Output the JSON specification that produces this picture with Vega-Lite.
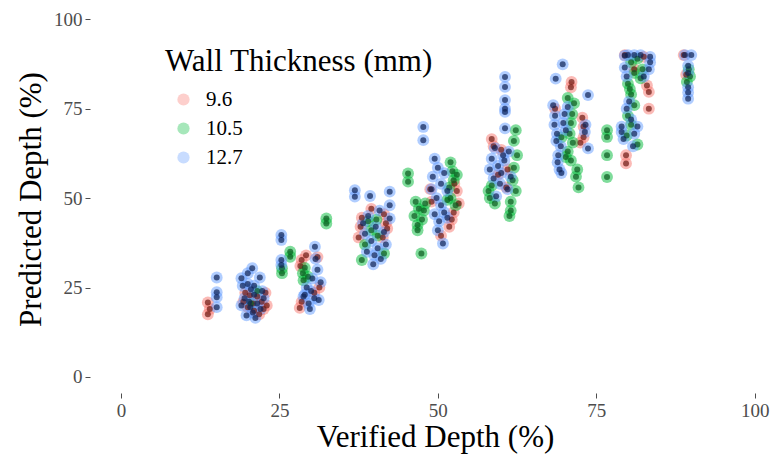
{
  "$schema": "https://vega.github.io/schema/vega-lite/v6.json",
  "width": 690,
  "height": 388,
  "autosize": "none",
  "padding": {"left": 90, "top": 5, "right": 2, "bottom": 62},
  "background": "white",
  "config": {
    "font": "Liberation Serif",
    "view": {"stroke": null},
    "axis": {"grid": false, "domain": false, "labelFont": "Liberation Serif", "titleFont": "Liberation Serif", "labelColor": "#4d4d4d", "tickColor": "#4d4d4d", "titleColor": "black", "titleFontWeight": "normal", "labelFontSize": 19, "titleFontSize": 31, "tickSize": 5},
    "legend": {"labelFont": "Liberation Serif", "titleFont": "Liberation Serif", "titleLimit": 500, "labelLimit": 200}
  },
  "data": {"values": [
    {"x":13.7,"y":20.8,"g":"9.6"},{"x":13.7,"y":17.5,"g":"9.6"},{"x":14.0,"y":19.0,"g":"9.6"},
    {"x":19.3,"y":21.0,"g":"9.6"},{"x":20.0,"y":19.5,"g":"9.6"},{"x":20.8,"y":20.5,"g":"9.6"},{"x":21.5,"y":22.5,"g":"9.6"},{"x":22.2,"y":21.0,"g":"9.6"},{"x":22.8,"y":23.5,"g":"9.6"},{"x":19.6,"y":23.5,"g":"9.6"},{"x":21.0,"y":18.5,"g":"9.6"},{"x":22.5,"y":19.0,"g":"9.6"},{"x":20.3,"y":22.8,"g":"9.6"},{"x":23.0,"y":20.0,"g":"9.6"},{"x":21.8,"y":17.5,"g":"9.6"},
    {"x":28.5,"y":32.7,"g":"9.6"},{"x":28.3,"y":31.0,"g":"9.6"},{"x":28.2,"y":19.3,"g":"9.6"},{"x":28.5,"y":21.0,"g":"9.6"},{"x":30.5,"y":23.5,"g":"9.6"},{"x":31.3,"y":25.0,"g":"9.6"},{"x":29.2,"y":34.0,"g":"9.6"},{"x":31.0,"y":33.5,"g":"9.6"},
    {"x":37.8,"y":42.0,"g":"9.6"},{"x":38.0,"y":44.5,"g":"9.6"},{"x":41.5,"y":45.5,"g":"9.6"},{"x":41.8,"y":43.0,"g":"9.6"},{"x":42.0,"y":41.5,"g":"9.6"},{"x":41.3,"y":39.0,"g":"9.6"},{"x":37.5,"y":39.0,"g":"9.6"},{"x":39.5,"y":47.0,"g":"9.6"},
    {"x":48.8,"y":52.5,"g":"9.6"},{"x":49.0,"y":49.0,"g":"9.6"},{"x":52.6,"y":54.0,"g":"9.6"},{"x":53.0,"y":52.0,"g":"9.6"},{"x":52.5,"y":46.0,"g":"9.6"},{"x":53.3,"y":48.5,"g":"9.6"},{"x":51.8,"y":42.0,"g":"9.6"},{"x":50.5,"y":39.5,"g":"9.6"},{"x":52.2,"y":44.0,"g":"9.6"},
    {"x":58.5,"y":66.5,"g":"9.6"},{"x":58.8,"y":64.5,"g":"9.6"},{"x":60.0,"y":63.5,"g":"9.6"},{"x":61.0,"y":58.0,"g":"9.6"},{"x":59.5,"y":56.5,"g":"9.6"},{"x":60.8,"y":53.0,"g":"9.6"},
    {"x":71.1,"y":82.5,"g":"9.6"},{"x":71.0,"y":81.0,"g":"9.6"},{"x":72.8,"y":72.5,"g":"9.6"},{"x":73.0,"y":70.0,"g":"9.6"},{"x":73.0,"y":67.0,"g":"9.6"},{"x":68.5,"y":75.0,"g":"9.6"},{"x":72.5,"y":65.5,"g":"9.6"},
    {"x":79.5,"y":90.0,"g":"9.6"},{"x":82.5,"y":89.5,"g":"9.6"},{"x":83.3,"y":79.7,"g":"9.6"},{"x":83.3,"y":75.0,"g":"9.6"},{"x":79.7,"y":62.0,"g":"9.6"},{"x":79.7,"y":59.7,"g":"9.6"},{"x":83.0,"y":81.5,"g":"9.6"},{"x":81.0,"y":86.0,"g":"9.6"},
    {"x":88.8,"y":90.0,"g":"9.6"},{"x":89.2,"y":84.5,"g":"9.6"},
    {"x":20.5,"y":20.5,"g":"10.5"},{"x":21.5,"y":24.0,"g":"10.5"},
    {"x":26.7,"y":35.0,"g":"10.5"},{"x":26.7,"y":33.6,"g":"10.5"},{"x":25.4,"y":30.4,"g":"10.5"},{"x":25.4,"y":29.0,"g":"10.5"},
    {"x":28.7,"y":29.0,"g":"10.5"},{"x":28.8,"y":27.0,"g":"10.5"},{"x":29.0,"y":30.5,"g":"10.5"},{"x":29.5,"y":28.0,"g":"10.5"},
    {"x":32.4,"y":44.3,"g":"10.5"},{"x":32.4,"y":42.9,"g":"10.5"},
    {"x":38.0,"y":32.7,"g":"10.5"},{"x":39.5,"y":41.0,"g":"10.5"},{"x":40.3,"y":44.0,"g":"10.5"},{"x":39.0,"y":43.5,"g":"10.5"},{"x":38.5,"y":37.0,"g":"10.5"},{"x":40.5,"y":39.5,"g":"10.5"},{"x":41.5,"y":34.5,"g":"10.5"},
    {"x":45.3,"y":56.9,"g":"10.5"},{"x":45.3,"y":54.6,"g":"10.5"},
    {"x":46.5,"y":49.0,"g":"10.5"},{"x":47.0,"y":47.0,"g":"10.5"},{"x":46.3,"y":45.0,"g":"10.5"},{"x":47.5,"y":44.0,"g":"10.5"},{"x":47.8,"y":46.5,"g":"10.5"},{"x":46.8,"y":42.5,"g":"10.5"},{"x":47.4,"y":34.5,"g":"10.5"},{"x":48.0,"y":48.5,"g":"10.5"},{"x":46.8,"y":41.0,"g":"10.5"},
    {"x":52.0,"y":60.0,"g":"10.5"},{"x":52.3,"y":57.5,"g":"10.5"},{"x":52.5,"y":55.0,"g":"10.5"},{"x":51.8,"y":53.0,"g":"10.5"},{"x":52.0,"y":50.0,"g":"10.5"},{"x":51.5,"y":49.5,"g":"10.5"},{"x":53.0,"y":56.5,"g":"10.5"},{"x":52.8,"y":48.0,"g":"10.5"},
    {"x":58.0,"y":52.0,"g":"10.5"},{"x":58.2,"y":50.0,"g":"10.5"},{"x":62.3,"y":69.0,"g":"10.5"},{"x":62.0,"y":66.0,"g":"10.5"},{"x":62.5,"y":62.0,"g":"10.5"},{"x":62.0,"y":58.5,"g":"10.5"},{"x":61.8,"y":55.0,"g":"10.5"},{"x":62.3,"y":52.0,"g":"10.5"},{"x":61.5,"y":49.0,"g":"10.5"},{"x":61.5,"y":46.5,"g":"10.5"},{"x":61.3,"y":45.0,"g":"10.5"},{"x":59.0,"y":48.5,"g":"10.5"},{"x":58.5,"y":53.5,"g":"10.5"},
    {"x":70.5,"y":78.0,"g":"10.5"},{"x":71.5,"y":76.5,"g":"10.5"},{"x":71.2,"y":73.5,"g":"10.5"},{"x":71.0,"y":71.0,"g":"10.5"},{"x":70.8,"y":68.0,"g":"10.5"},{"x":71.3,"y":65.5,"g":"10.5"},{"x":70.5,"y":63.0,"g":"10.5"},{"x":71.0,"y":60.5,"g":"10.5"},{"x":72.0,"y":58.0,"g":"10.5"},{"x":71.8,"y":56.0,"g":"10.5"},{"x":72.2,"y":53.0,"g":"10.5"},{"x":70.2,"y":61.5,"g":"10.5"},{"x":69.5,"y":67.0,"g":"10.5"},
    {"x":76.7,"y":69.0,"g":"10.5"},{"x":76.7,"y":67.1,"g":"10.5"},{"x":76.7,"y":62.0,"g":"10.5"},{"x":76.7,"y":55.9,"g":"10.5"},
    {"x":81.5,"y":89.0,"g":"10.5"},{"x":80.5,"y":88.0,"g":"10.5"},{"x":82.3,"y":86.0,"g":"10.5"},{"x":81.0,"y":85.0,"g":"10.5"},{"x":80.0,"y":82.0,"g":"10.5"},{"x":80.5,"y":79.0,"g":"10.5"},{"x":81.0,"y":76.0,"g":"10.5"},{"x":80.0,"y":73.0,"g":"10.5"},{"x":80.5,"y":70.5,"g":"10.5"},{"x":79.8,"y":67.5,"g":"10.5"},{"x":81.5,"y":65.0,"g":"10.5"},{"x":80.3,"y":80.5,"g":"10.5"},{"x":82.0,"y":83.5,"g":"10.5"},
    {"x":89.8,"y":84.0,"g":"10.5"},{"x":89.3,"y":82.5,"g":"10.5"},{"x":89.6,"y":86.0,"g":"10.5"},
    {"x":15.1,"y":27.8,"g":"12.7"},{"x":15.1,"y":23.7,"g":"12.7"},{"x":15.1,"y":22.3,"g":"12.7"},{"x":15.1,"y":19.5,"g":"12.7"},
    {"x":19.0,"y":27.6,"g":"12.7"},{"x":20.7,"y":30.4,"g":"12.7"},{"x":21.9,"y":27.8,"g":"12.7"},{"x":19.2,"y":25.5,"g":"12.7"},{"x":20.0,"y":26.0,"g":"12.7"},{"x":20.5,"y":24.5,"g":"12.7"},{"x":21.0,"y":23.0,"g":"12.7"},{"x":19.5,"y":22.0,"g":"12.7"},{"x":20.2,"y":21.0,"g":"12.7"},{"x":21.5,"y":20.5,"g":"12.7"},{"x":22.0,"y":19.0,"g":"12.7"},{"x":20.8,"y":18.0,"g":"12.7"},{"x":21.2,"y":16.5,"g":"12.7"},{"x":19.8,"y":17.2,"g":"12.7"},{"x":22.5,"y":22.0,"g":"12.7"},{"x":19.0,"y":20.0,"g":"12.7"},{"x":20.0,"y":29.0,"g":"12.7"},{"x":21.0,"y":25.5,"g":"12.7"},{"x":22.3,"y":24.0,"g":"12.7"},{"x":20.4,"y":19.5,"g":"12.7"},
    {"x":25.3,"y":39.7,"g":"12.7"},{"x":25.3,"y":38.3,"g":"12.7"},{"x":25.3,"y":32.7,"g":"12.7"},{"x":25.3,"y":31.3,"g":"12.7"},
    {"x":30.6,"y":36.4,"g":"12.7"},{"x":30.7,"y":33.0,"g":"12.7"},{"x":31.0,"y":30.0,"g":"12.7"},{"x":29.3,"y":25.0,"g":"12.7"},{"x":30.0,"y":24.0,"g":"12.7"},{"x":30.5,"y":22.0,"g":"12.7"},{"x":29.0,"y":23.0,"g":"12.7"},{"x":31.2,"y":21.5,"g":"12.7"},{"x":29.6,"y":20.5,"g":"12.7"},{"x":28.8,"y":22.5,"g":"12.7"},{"x":30.2,"y":27.5,"g":"12.7"},{"x":31.5,"y":26.5,"g":"12.7"},{"x":29.8,"y":19.0,"g":"12.7"},
    {"x":36.9,"y":52.2,"g":"12.7"},{"x":36.9,"y":50.4,"g":"12.7"},{"x":39.3,"y":50.6,"g":"12.7"},{"x":42.4,"y":51.8,"g":"12.7"},{"x":42.4,"y":48.0,"g":"12.7"},{"x":42.4,"y":44.3,"g":"12.7"},{"x":38.5,"y":40.0,"g":"12.7"},{"x":39.5,"y":38.0,"g":"12.7"},{"x":40.5,"y":36.0,"g":"12.7"},{"x":41.0,"y":33.0,"g":"12.7"},{"x":39.8,"y":31.5,"g":"12.7"},{"x":38.8,"y":35.0,"g":"12.7"},{"x":40.2,"y":42.0,"g":"12.7"},{"x":41.5,"y":40.5,"g":"12.7"},{"x":39.0,"y":45.0,"g":"12.7"},{"x":40.8,"y":46.5,"g":"12.7"},{"x":41.8,"y":37.0,"g":"12.7"},{"x":38.2,"y":43.0,"g":"12.7"},{"x":40.0,"y":34.0,"g":"12.7"},
    {"x":47.7,"y":69.9,"g":"12.7"},{"x":47.7,"y":66.2,"g":"12.7"},{"x":50.8,"y":37.3,"g":"12.7"},{"x":49.5,"y":61.0,"g":"12.7"},{"x":50.0,"y":58.5,"g":"12.7"},{"x":51.0,"y":57.0,"g":"12.7"},{"x":49.2,"y":56.0,"g":"12.7"},{"x":50.5,"y":54.0,"g":"12.7"},{"x":51.5,"y":52.0,"g":"12.7"},{"x":49.8,"y":50.0,"g":"12.7"},{"x":50.5,"y":48.0,"g":"12.7"},{"x":51.0,"y":46.0,"g":"12.7"},{"x":49.5,"y":45.5,"g":"12.7"},{"x":50.2,"y":43.5,"g":"12.7"},{"x":51.5,"y":44.5,"g":"12.7"},{"x":49.0,"y":52.5,"g":"12.7"},{"x":50.0,"y":41.0,"g":"12.7"},
    {"x":60.6,"y":83.9,"g":"12.7"},{"x":60.6,"y":81.1,"g":"12.7"},{"x":60.6,"y":77.4,"g":"12.7"},{"x":60.6,"y":75.0,"g":"12.7"},{"x":60.6,"y":74.1,"g":"12.7"},{"x":60.6,"y":69.5,"g":"12.7"},{"x":59.0,"y":64.0,"g":"12.7"},{"x":58.5,"y":61.0,"g":"12.7"},{"x":59.5,"y":59.0,"g":"12.7"},{"x":60.0,"y":57.0,"g":"12.7"},{"x":58.8,"y":55.5,"g":"12.7"},{"x":59.8,"y":54.0,"g":"12.7"},{"x":61.0,"y":52.5,"g":"12.7"},{"x":60.5,"y":60.5,"g":"12.7"},{"x":61.5,"y":56.0,"g":"12.7"},{"x":59.2,"y":50.5,"g":"12.7"},{"x":60.3,"y":62.0,"g":"12.7"},{"x":58.2,"y":58.0,"g":"12.7"},{"x":61.2,"y":63.0,"g":"12.7"},
    {"x":69.7,"y":87.4,"g":"12.7"},{"x":68.6,"y":83.4,"g":"12.7"},{"x":73.7,"y":78.8,"g":"12.7"},{"x":73.7,"y":63.9,"g":"12.7"},{"x":68.8,"y":68.0,"g":"12.7"},{"x":68.2,"y":76.0,"g":"12.7"},{"x":68.5,"y":73.0,"g":"12.7"},{"x":68.4,"y":70.5,"g":"12.7"},{"x":68.7,"y":66.0,"g":"12.7"},{"x":69.0,"y":62.0,"g":"12.7"},{"x":68.9,"y":60.0,"g":"12.7"},{"x":69.2,"y":58.0,"g":"12.7"},{"x":69.5,"y":57.0,"g":"12.7"},{"x":70.0,"y":73.5,"g":"12.7"},{"x":70.5,"y":75.5,"g":"12.7"},{"x":69.8,"y":71.0,"g":"12.7"},{"x":70.2,"y":69.0,"g":"12.7"},{"x":73.3,"y":70.5,"g":"12.7"},{"x":73.2,"y":68.5,"g":"12.7"},{"x":69.4,"y":64.5,"g":"12.7"},
    {"x":80.0,"y":90.0,"g":"12.7"},{"x":81.0,"y":90.0,"g":"12.7"},{"x":82.0,"y":90.0,"g":"12.7"},{"x":79.5,"y":89.8,"g":"12.7"},{"x":83.5,"y":89.5,"g":"12.7"},{"x":79.5,"y":86.5,"g":"12.7"},{"x":83.3,"y":86.0,"g":"12.7"},{"x":83.5,"y":88.0,"g":"12.7"},{"x":79.0,"y":70.0,"g":"12.7"},{"x":79.3,"y":66.5,"g":"12.7"},{"x":80.8,"y":64.5,"g":"12.7"},{"x":82.5,"y":84.0,"g":"12.7"},{"x":79.8,"y":84.0,"g":"12.7"},{"x":80.2,"y":77.0,"g":"12.7"},{"x":79.8,"y":75.0,"g":"12.7"},{"x":79.0,"y":68.5,"g":"12.7"},{"x":81.0,"y":68.0,"g":"12.7"},{"x":80.5,"y":72.0,"g":"12.7"},{"x":81.5,"y":70.0,"g":"12.7"},
    {"x":89.0,"y":90.0,"g":"12.7"},{"x":90.0,"y":90.0,"g":"12.7"},{"x":89.5,"y":87.0,"g":"12.7"},{"x":89.5,"y":85.0,"g":"12.7"},{"x":89.5,"y":79.5,"g":"12.7"},{"x":89.5,"y":77.8,"g":"12.7"},{"x":89.5,"y":81.0,"g":"12.7"}
  ]},
  "encoding": {
    "x": {"field": "x", "type": "quantitative", "scale": {"domain": [-4.9, 104], "nice": false, "zero": false}, "axis": {"values": [0, 25, 50, 75, 100], "title": "Verified Depth (%)", "labelPadding": 3, "titlePadding": 2}},
    "y": {"field": "y", "type": "quantitative", "scale": {"domain": [-4.5, 104], "nice": false, "zero": false}, "axis": {"values": [0, 25, 50, 75, 100], "title": "Predicted Depth (%)", "labelPadding": 3, "titlePadding": 6}}
  },
  "layer": [
    {
      "mark": {"type": "circle", "size": 140, "opacity": 0.5},
      "encoding": {
        "color": {"field": "g", "type": "nominal", "sort": ["9.6", "10.5", "12.7"],
          "scale": {"domain": ["9.6", "10.5", "12.7"], "range": ["#F8766D", "#00BA38", "#619CFF"]},
          "legend": {"title": "Wall Thickness (mm)", "orient": "none", "legendX": 75, "legendY": 42, "padding": 0,
            "titleFont": "Liberation Serif", "titleFontSize": 31, "titleFontWeight": "normal", "titleColor": "black", "titlePadding": 11, "titleLimit": 500,
            "labelFont": "Liberation Serif", "labelFontSize": 21, "labelColor": "black", "labelOffset": 12,
            "symbolSize": 150, "symbolType": "circle", "symbolOpacity": 0.35, "rowPadding": 7, "symbolOffset": 8,
            "encode": {"labels": {"update": {"font": {"value": "Liberation Serif"}, "fontSize": {"value": 21}}}}}
        }
      }
    },
    {
      "mark": {"type": "circle", "size": 36, "opacity": 0.7},
      "encoding": {
        "color": {"field": "g", "type": "nominal",
          "scale": {"domain": ["9.6", "10.5", "12.7"], "range": ["#6e1a12", "#0a5a1e", "#0e2255"]},
          "legend": null}
      }
    }
  ],
  "resolve": {"scale": {"color": "independent"}}
}
